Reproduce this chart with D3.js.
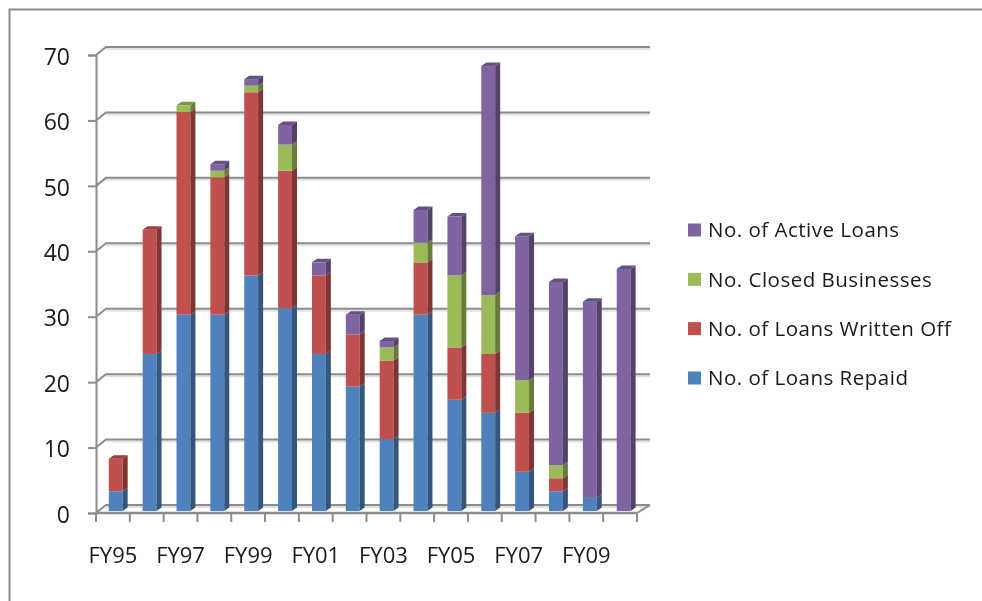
<!DOCTYPE html>
<html><head><meta charset="utf-8">
<script src="https://cdn.jsdelivr.net/npm/d3@7/dist/d3.min.js"></script>
<style>
html,body{margin:0;padding:0;background:#fff;overflow:hidden}
svg{display:block;filter:blur(0.45px)}
text{font-family:"Open Sans",sans-serif;fill:#1a1a1a}
</style></head><body>
<svg id="c" width="982" height="601"></svg>
<script>
const categories=["FY95","FY96","FY97","FY98","FY99","FY00","FY01","FY02","FY03","FY04","FY05","FY06","FY07","FY08","FY09","FY10"];
const shownLabels=["FY95","FY97","FY99","FY01","FY03","FY05","FY07","FY09"];
const yTicks=[0,10,20,30,40,50,60,70];
const repaid=[3,24,30,30,36,31,24,19,11,30,17,15,6,3,2,0];
const writtenOff=[5,19,31,21,28,21,12,8,12,8,8,9,9,2,0,0];
const closed=[0,0,1,1,1,4,0,0,2,3,11,9,5,2,0,0];
const active=[0,0,0,1,1,3,2,3,1,5,9,35,22,28,30,37];
const seriesNames=["No. of Loans Repaid","No. of Loans Written Off","No. Closed Businesses","No. of Active Loans"];
const seriesValues=[repaid,writtenOff,closed,active];
const colors=["#4f81bd","#c0504d","#9bbb59","#8064a2"];

const svg=d3.select("#c");
const grid="#8c8c8c";
const dx=10, dy=8;
const y=d3.scaleLinear().domain([0,70]).range([513,55]);
const x=d3.scaleBand().domain(categories).range([96,637]);
const barX=d3.scaleBand().domain(categories).range([98.8,640.6]).paddingInner(0.59).paddingOuter(0.295);

svg.append("path").attr("d","M9.5,601V9.5H982").attr("fill","none").attr("stroke","#8a8a8a").attr("stroke-width",2);

const g=svg.append("g").attr("fill","none");
yTicks.forEach(t=>{
  g.append("path").attr("d",`M${96+dx},${y(t)-dy+2}H${637+13}`).attr("stroke","#e2e2e2").attr("stroke-width",2);
  g.append("path").attr("d",`M96,${y(t)}L${96+dx},${y(t)-dy}H${637+13}`).attr("stroke",grid).attr("stroke-width",2);
});
g.append("path").attr("d",`M637,513L650,${513-dy}`).attr("stroke",grid).attr("stroke-width",2);

const yAxis=d3.axisLeft(y).tickValues(yTicks).tickSize(8).tickPadding(18);
const ya=svg.append("g").attr("transform","translate(96,0)").call(yAxis);
ya.select(".domain").attr("stroke",grid).attr("stroke-width",2);
ya.selectAll(".tick line").attr("stroke",grid).attr("stroke-width",2);
ya.selectAll("text").attr("font-size",23).attr("font-family","Open Sans").attr("fill","#1a1a1a").attr("dy","0.4em");

const xAxis=d3.axisBottom(x).tickValues(shownLabels).tickSize(0).tickPadding(34);
const xa=svg.append("g").attr("transform","translate(0,513)").call(xAxis);
xa.select(".domain").remove();
xa.selectAll("text").attr("font-size",22).attr("font-family","Open Sans").attr("fill","#1a1a1a");
svg.append("path").attr("d",`M96,513H637`).attr("stroke",grid).attr("stroke-width",2.5);
const tickPos=categories.map(c=>x(c)).concat([637]);
svg.append("g").selectAll("line").data(tickPos).join("line")
  .attr("x1",d=>d).attr("x2",d=>d).attr("y1",513).attr("y2",522).attr("stroke",grid).attr("stroke-width",2);

const by=v=>y(v)-2;
const ox=5, oy=3.5;
const rows=categories.map((c,i)=>{let acc=0;return seriesValues.map((s,k)=>{const a=acc;acc+=s[i];return {c,k,y0:a,y1:acc};}).filter(d=>d.y1>d.y0);});
const bars=svg.append("g");
rows.forEach(stack=>{
  stack.forEach((d,j)=>{
    const L=barX(d.c),R=L+barX.bandwidth(),T=by(d.y1),B=by(d.y0),col=d3.color(colors[d.k]);
    bars.append("rect").attr("x",L).attr("y",T).attr("width",R-L).attr("height",B-T).attr("fill",col);
    bars.append("path").attr("d",`M${R},${T}L${R+ox},${T-oy}V${B-oy}L${R},${B}Z`).attr("fill",col.darker(1.15));
    if(j===stack.length-1)
      bars.append("path").attr("d",`M${L},${T}L${L+ox},${T-oy}H${R+ox}L${R},${T}Z`).attr("fill",col.darker(0.6));
  });
});

const legendOrder=[3,2,1,0];
const ly=d3.scalePoint().domain(legendOrder).range([230,378]);
const lg=svg.append("g").selectAll("g").data(legendOrder).join("g").attr("transform",k=>`translate(688,${ly(k)})`);
lg.append("rect").attr("x",0).attr("y",-6.5).attr("width",13).attr("height",13).attr("fill",k=>colors[k]);
lg.append("text").attr("x",20).attr("y",0).attr("dy","0.35em").attr("font-size",20.5).attr("letter-spacing","0.5px").text(k=>seriesNames[k]);
</script>
</body></html>
